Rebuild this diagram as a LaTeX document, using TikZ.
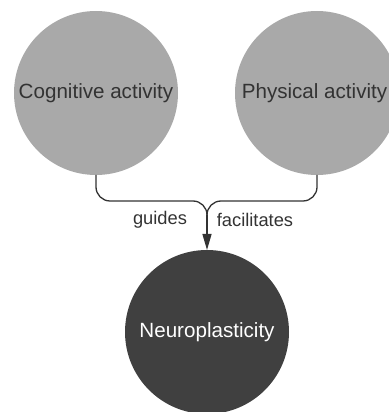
\documentclass[tikz,border=0pt]{standalone}
\usepackage{fontspec}
\setmainfont{Liberation Sans}
\usetikzlibrary{arrows.meta}
\definecolor{lightc}{HTML}{A9A9A9}
\definecolor{darkc}{HTML}{404040}
\definecolor{linec}{HTML}{333333}
\begin{document}
\begin{tikzpicture}[x=1pt,y=1pt,
  bigcirc/.style={circle,minimum size=164pt,inner sep=0pt,outer sep=0pt,font=\fontsize{20.6}{24}\selectfont},
  lightcirc/.style={bigcirc,fill=lightc,text=linec},
  darkcirc/.style={bigcirc,fill=darkc,text=white},
  conn/.style={draw=linec,line width=1.3pt,rounded corners=14pt},
  lbl/.style={font=\fontsize{18.3}{22}\selectfont,text=linec,inner sep=0pt}]
\useasboundingbox (0,0) rectangle (388,412);
\node[lightcirc] (cog) at (96,319) {Cognitive activity};
\node[lightcirc] (phys) at (317,319) {};
\node[font=\fontsize{20.6}{24}\selectfont,text=linec,inner sep=0pt] (physt) at (314.5,319) {Physical activity};
\node[darkcirc] (neuro) at (207,80) {Neuroplasticity};
\coordinate (mid) at (207,211);
\coordinate (join) at (207,197);
\draw[conn] (cog.south) |- (mid) -- (join);
\draw[conn] (phys.south) |- (mid) -- (join);
\draw[draw=linec,line width=1.3pt,-{Triangle[length=16pt,width=9pt]}] (join) -- (neuro.north);
\node[lbl] (g) at (160,192) {guides};
\node[lbl] (f) at (255,192) {facilitates};
\end{tikzpicture}
\end{document}
